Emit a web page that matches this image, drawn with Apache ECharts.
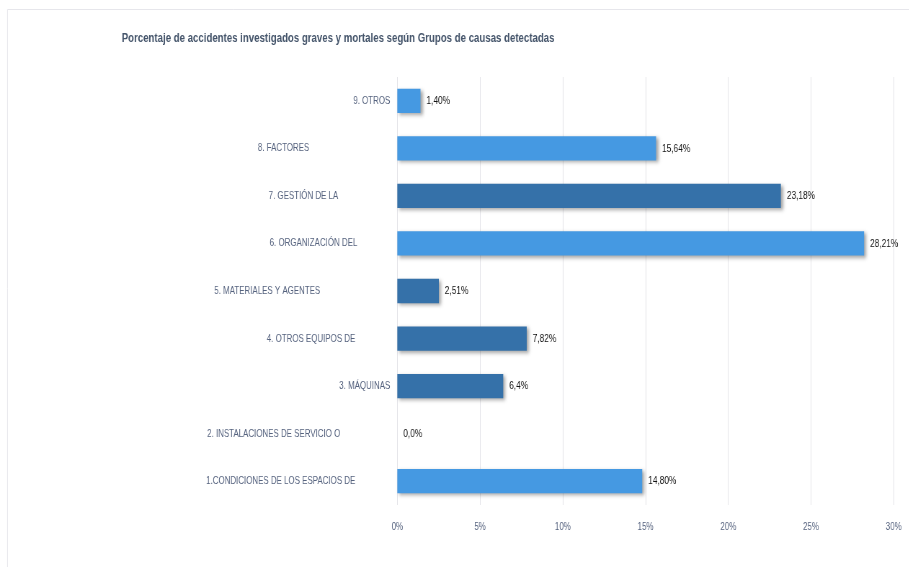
<!DOCTYPE html>
<html>
<head>
<meta charset="utf-8">
<script src="https://cdn.jsdelivr.net/npm/echarts@6/dist/echarts.min.js"></script>
<style>
html,body{margin:0;padding:0;background:#fff;overflow:hidden;width:909px;height:567px;}
#c{height:567px;transform-origin:0 0;}
</style>
</head>
<body>
<div id="c"></div>
<script>
// Data (bottom to top, as on the y axis)
const categories = [
  "1.CONDICIONES DE LOS ESPACIOS DE",
  "2. INSTALACIONES DE SERVICIO O",
  "3. MÁQUINAS",
  "4. OTROS EQUIPOS DE",
  "5. MATERIALES Y AGENTES",
  "6. ORGANIZACIÓN DEL",
  "7. GESTIÓN DE LA",
  "8. FACTORES",
  "9. OTROS"
];
const values = [14.80, 0.0, 6.4, 7.82, 2.51, 28.21, 23.18, 15.64, 1.40];
const valueLabels = ["14,80%", "0,0%", "6,4%", "7,82%", "2,51%", "28,21%", "23,18%", "15,64%", "1,40%"];
const darkGroup = [false, false, true, true, true, false, true, false, false];
const tickLabels = ["0%", "5%", "10%", "15%", "20%", "25%", "30%"];
const titleText = "Porcentaje de accidentes investigados graves y mortales según Grupos de causas detectadas";

// Layout: the original uses a very condensed typeface; the chart is drawn wider and squeezed horizontally.
const S = 0.72;
const W = 909 / S;
const el = document.getElementById('c');
el.style.width = W + 'px';
el.style.transform = 'scaleX(' + S + ')';
const X = (px) => px / S;

const FONT = "'Liberation Sans', Arial, sans-serif";
const LIGHT = "#4599E2";
const DARK = "#3571A9";
const LABEL_COLOR = "#56637F";
// right padding of each category label (the wrapped labels in the original sit at different offsets)
const labelPad = [35, 50, 0, 35, 70, 33, 52, 81, 0];

const rich = {};
labelPad.forEach((p, i) => {
  rich["p" + i] = { padding: [0, X(p), 0, 0], color: LABEL_COLOR, fontSize: 11, fontFamily: FONT };
});

const chart = echarts.init(el, null, { renderer: 'canvas', width: W, height: 567 });
chart.setOption({
  backgroundColor: '#fff',
  animation: false,
  title: {
    text: titleText,
    left: X(118),
    top: 27,
    textStyle: { fontFamily: FONT, fontWeight: 'bold', fontSize: 13.4, color: '#44546A' }
  },
  graphic: [{
    type: 'rect',
    shape: { x: X(7.5), y: 9.5, width: W + 50, height: 700 },
    style: { fill: 'none', stroke: '#E6E6EB', lineWidth: 1 },
    silent: true, z: -1
  }],
  grid: { left: X(397), right: X(16), top: 77, bottom: 62, containLabel: false },
  xAxis: {
    type: 'value',
    min: 0, max: 30, interval: 5,
    axisLine: { show: false },
    axisTick: { show: false },
    splitLine: { show: true, lineStyle: { color: '#E3E3E8', width: 1 } },
    axisLabel: {
      margin: 16,
      color: LABEL_COLOR, fontSize: 11, fontFamily: FONT,
      formatter: (v) => tickLabels[Math.round(v / 5)] ?? ''
    }
  },
  yAxis: {
    type: 'category',
    data: categories,
    axisLine: { show: false },
    axisTick: { show: false },
    axisLabel: {
      margin: X(7),
      formatter: (v, i) => '{p' + i + '|' + v + '}',
      rich: rich
    }
  },
  series: [{
    type: 'bar',
    barWidth: '51%',
    data: values.map((v, i) => ({
      value: v,
      itemStyle: { color: darkGroup[i] ? DARK : LIGHT }
    })),
    itemStyle: {
      shadowColor: 'rgba(0,0,0,0.35)', shadowBlur: 4, shadowOffsetX: 3, shadowOffsetY: 2
    },
    label: {
      show: true, position: 'right', distance: X(6),
      color: '#111', fontSize: 11.5, fontFamily: FONT,
      formatter: (p) => valueLabels[p.dataIndex]
    }
  }]
});
</script>
</body>
</html>
